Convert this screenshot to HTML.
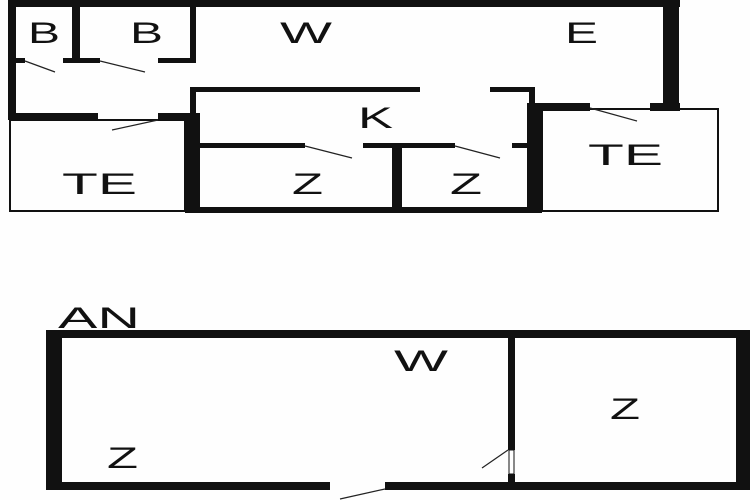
<!DOCTYPE html>
<html><head><style>
html,body{margin:0;padding:0;background:#fff;}
svg{display:block;}
text{font-family:"Liberation Sans",sans-serif;fill:#111;}
</style></head><body>
<svg width="750" height="500" viewBox="0 0 750 500" xmlns="http://www.w3.org/2000/svg">
<rect width="750" height="500" fill="#fefefe"/>
<g fill="#111">
<rect x="8" y="0" width="672" height="7"/>
<rect x="8" y="0" width="8" height="120"/>
<rect x="663" y="0" width="16" height="110"/>
<rect x="72" y="0" width="8" height="62"/>
<rect x="190" y="0" width="6" height="62"/>
<rect x="15" y="58" width="10" height="5"/>
<rect x="63" y="58" width="37" height="5"/>
<rect x="158" y="58" width="38" height="5"/>
<rect x="8" y="113" width="90" height="7"/>
<rect x="158" y="113" width="32" height="7"/>
<rect x="190" y="87" width="230" height="5"/>
<rect x="490" y="87" width="44" height="5"/>
<rect x="190" y="87" width="6" height="30"/>
<rect x="185" y="113" width="15" height="100"/>
<rect x="529" y="87" width="6" height="20"/>
<rect x="527" y="103" width="15" height="110"/>
<rect x="197" y="143" width="108" height="5"/>
<rect x="363" y="143" width="92" height="5"/>
<rect x="512" y="143" width="16" height="5"/>
<rect x="392" y="143" width="10" height="70"/>
<rect x="185" y="207" width="357" height="6"/>
<rect x="540" y="103" width="50" height="8"/>
<rect x="650" y="103" width="30" height="8"/>
<rect x="46" y="330" width="704" height="8"/>
<rect x="46" y="330" width="16" height="160"/>
<rect x="736" y="330" width="14" height="160"/>
<rect x="46" y="482" width="284" height="8"/>
<rect x="385" y="482" width="365" height="8"/>
<rect x="508" y="330" width="7" height="120"/>
<rect x="508" y="474" width="7" height="10"/>
</g>
<g fill="none" stroke="#111" stroke-width="2">
<rect x="10" y="120" width="175" height="91"/>
<rect x="542" y="109" width="176" height="102"/>
<rect x="509" y="450" width="5" height="24" stroke-width="1"/>
</g>
<g stroke="#222" stroke-width="1.2">
<line x1="25" y1="61" x2="55" y2="72"/>
<line x1="100" y1="61" x2="145" y2="72"/>
<line x1="112" y1="130" x2="158" y2="120"/>
<line x1="305" y1="146" x2="352" y2="158"/>
<line x1="455" y1="146" x2="500" y2="158"/>
<line x1="590" y1="108" x2="637" y2="121"/>
<line x1="482" y1="468" x2="508" y2="450"/>
<line x1="340" y1="499" x2="385" y2="489"/>
</g>
<g font-size="30">
<text x="28" y="43" textLength="32" lengthAdjust="spacingAndGlyphs">B</text>
<text x="130" y="43" textLength="33" lengthAdjust="spacingAndGlyphs">B</text>
<text x="280" y="43" textLength="52" lengthAdjust="spacingAndGlyphs">W</text>
<text x="565" y="43" textLength="33" lengthAdjust="spacingAndGlyphs">E</text>
<text x="358" y="128" textLength="35" lengthAdjust="spacingAndGlyphs">K</text>
<text x="62" y="194" textLength="75" lengthAdjust="spacingAndGlyphs">TE</text>
<text x="292" y="194" textLength="31" lengthAdjust="spacingAndGlyphs">Z</text>
<text x="450" y="194" textLength="32" lengthAdjust="spacingAndGlyphs">Z</text>
<text x="588" y="165" textLength="75" lengthAdjust="spacingAndGlyphs">TE</text>
<text x="58" y="328" textLength="82" lengthAdjust="spacingAndGlyphs">AN</text>
<text x="394" y="371" textLength="54" lengthAdjust="spacingAndGlyphs">W</text>
<text x="610" y="419" textLength="30" lengthAdjust="spacingAndGlyphs">Z</text>
<text x="107" y="468" textLength="31" lengthAdjust="spacingAndGlyphs">Z</text>
</g>
</svg>
</body></html>
